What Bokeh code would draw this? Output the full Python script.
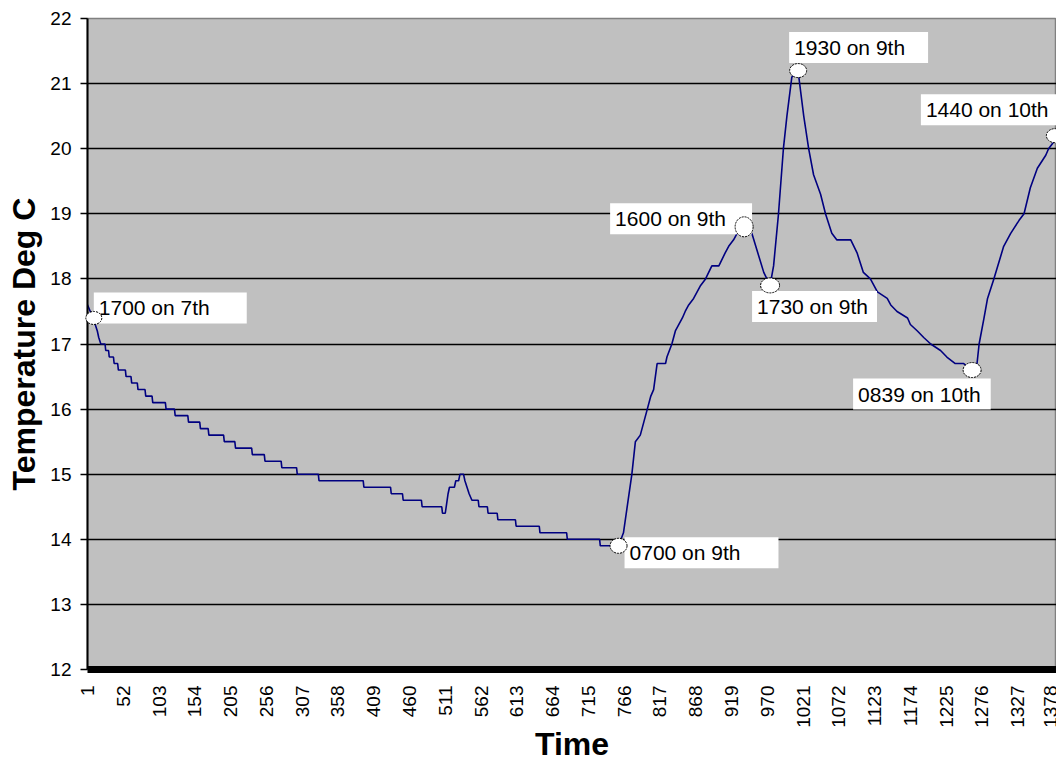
import math
from bokeh.plotting import figure
from bokeh.models import Range1d, FixedTicker, Label
from bokeh.embed import file_html
from bokeh.resources import INLINE

# ---- data: vertices of the logged temperature trace (sample number, deg C) ----
sample_idx = [
    1, 5, 9, 12, 15, 17, 20, 26, 27, 31, 32, 38, 39, 44, 45, 55, 56, 63, 64, 72,
    73, 83, 84, 93, 94, 112, 113, 125, 126, 144, 145, 161, 162, 173, 174, 195, 196, 211, 212, 235,
    236, 253, 254, 277, 278, 299, 300, 330, 331, 394, 395, 433, 434, 450, 451, 477, 478, 506, 507, 511,
    515, 517, 524, 526, 530, 532, 537, 539, 542, 545, 549, 558, 559, 571, 572, 585, 586, 611, 612, 645,
    646, 684, 685, 731, 732, 758,
    765, 777, 782, 789, 794, 799, 804, 808, 813, 825, 827, 834, 839, 844, 849, 853, 858, 865, 875, 882,
    891, 901, 910, 915, 922, 927, 937,
    948, 965, 974,
    979, 986, 993, 998, 1005, 1014, 1015, 1022, 1029, 1036, 1046, 1053, 1062, 1069, 1089, 1098, 1107, 1117, 1127, 1141,
    1146, 1155, 1170, 1174, 1184, 1193, 1203, 1217, 1226, 1238, 1250, 1262,
    1269, 1272, 1279, 1284, 1293, 1307, 1317, 1329, 1336, 1345, 1355, 1367, 1371, 1378, 1380, 1384,
]
temp_c = [
    17.6, 17.5, 17.4, 17.3, 17.2, 17.1, 17.0, 17.0, 16.9, 16.9, 16.8, 16.8, 16.7, 16.7, 16.6, 16.6, 16.5, 16.5, 16.4, 16.4,
    16.3, 16.3, 16.2, 16.2, 16.1, 16.1, 16.0, 16.0, 15.9, 15.9, 15.8, 15.8, 15.7, 15.7, 15.6, 15.6, 15.5, 15.5, 15.4, 15.4,
    15.3, 15.3, 15.2, 15.2, 15.1, 15.1, 15.0, 15.0, 14.9, 14.9, 14.8, 14.8, 14.7, 14.7, 14.6, 14.6, 14.5, 14.5, 14.4, 14.4,
    14.7, 14.8, 14.8, 14.9, 14.9, 15.0, 15.0, 14.9, 14.8, 14.7, 14.6, 14.6, 14.5, 14.5, 14.4, 14.4, 14.3, 14.3, 14.2, 14.2,
    14.1, 14.1, 14.0, 14.0, 13.9, 13.9,
    14.1, 15.0, 15.5, 15.6, 15.8, 16.0, 16.2, 16.3, 16.7, 16.7, 16.8, 17.0, 17.2, 17.3, 17.4, 17.5, 17.6, 17.7, 17.9, 18.0,
    18.2, 18.2, 18.4, 18.5, 18.6, 18.7, 18.8,
    18.7, 18.1, 17.9,
    18.2, 19.0, 20.0, 20.5, 21.1, 21.2, 21.1, 20.5, 20.0, 19.6, 19.3, 19.0, 18.7, 18.6, 18.6, 18.4, 18.1, 18.0, 17.8, 17.7,
    17.6, 17.5, 17.4, 17.3, 17.2, 17.1, 17.0, 16.9, 16.8, 16.7, 16.7, 16.6,
    16.7, 17.0, 17.4, 17.7, 18.0, 18.5, 18.7, 18.9, 19.0, 19.4, 19.7, 19.9, 20.0, 20.1, 20.2, 20.2,
]

x_ticks = [1, 52, 103, 154, 205, 256, 307, 358, 409, 460, 511, 562, 613, 664, 715, 766,
           817, 868, 919, 970, 1021, 1072, 1123, 1174, 1225, 1276, 1327, 1378]
y_ticks = [12, 13, 14, 15, 16, 17, 18, 19, 20, 21, 22]

note_text = ["1700 on 7th", "0700 on 9th", "1600 on 9th", "1730 on 9th",
             "1930 on 9th", "0839 on 10th", "1440 on 10th"]
note_idx = [10, 758, 937, 974, 1014, 1262, 1380]
note_temp = [17.4, 13.9, 18.8, 17.9, 21.2, 16.6, 20.2]

# label / marker styles (screen px)
note_dx = [0, 6, -134, -18, -9, -119, -134]
note_dy = [10, -7, 8, -21, 23, -24, 26]
note_pad_right = [37, 38, 26, 9, 23, 10, 20]
marker_w = [16, 17, 18, 19, 17, 18, 17]
marker_h = [13, 15, 20, 15, 14, 15, 14]

FONT = "Liberation Sans"

p = figure(width=1056, height=764, output_backend="svg", toolbar_location=None,
           x_range=Range1d(1, 1382.3), y_range=Range1d(12, 22),
           min_border_left=87, min_border_right=0, min_border_top=18, min_border_bottom=0)

p.background_fill_color = "#C0C0C0"
p.border_fill_color = "white"
p.outline_line_color = "#808080"
p.outline_line_width = 1.5

p.xgrid.visible = False
p.ygrid.grid_line_color = "black"
p.ygrid.grid_line_width = 1.5

p.xaxis.ticker = FixedTicker(ticks=x_ticks)
p.yaxis.ticker = FixedTicker(ticks=y_ticks)

xa = p.xaxis[0]
xa.axis_line_width = 7
xa.axis_line_color = "black"
xa.major_tick_out = 0
xa.major_tick_in = 0
xa.minor_tick_out = 0
xa.minor_tick_in = 0
xa.major_label_orientation = math.pi / 2
xa.major_label_text_font = FONT
xa.major_label_text_font_size = "19px"
xa.major_label_text_color = "black"
xa.major_label_standoff = 16
xa.axis_label = "Time"
xa.axis_label_text_font = FONT
xa.axis_label_text_font_size = "32px"
xa.axis_label_text_font_style = "bold"
xa.axis_label_text_color = "black"
xa.axis_label_standoff = -5

ya = p.yaxis[0]
ya.axis_line_width = 2
ya.axis_line_color = "black"
ya.major_tick_out = 7
ya.major_tick_in = 0
ya.major_tick_line_width = 1.5
ya.major_tick_line_color = "black"
ya.minor_tick_out = 0
ya.minor_tick_in = 0
ya.major_label_text_font = FONT
ya.major_label_text_font_size = "19px"
ya.major_label_text_color = "black"
ya.major_label_standoff = 9
ya.axis_label = "Temperature Deg C"
ya.axis_label_text_font = FONT
ya.axis_label_text_font_size = "32px"
ya.axis_label_text_font_style = "bold"
ya.axis_label_text_color = "black"
ya.axis_label_standoff = 5

p.line(sample_idx, temp_c, line_color="#000080", line_width=1.6)

for t, xi, yv, dx, dy, pr in zip(note_text, note_idx, note_temp, note_dx, note_dy, note_pad_right):
    p.add_layout(Label(x=xi, y=yv, x_offset=dx, y_offset=dy, text=t,
                       text_font=FONT, text_font_size="21px", text_color="black",
                       text_align="left", text_baseline="middle",
                       background_fill_color="white",
                       padding=dict(left=5, right=pr, top=4, bottom=4)))

p.ellipse(x=note_idx, y=note_temp, width=marker_w, height=marker_h,
          width_units="screen", height_units="screen",
          fill_color="white", line_color="black", line_width=1, line_dash="2 1",
          level="overlay")

open("out.html", "w").write(file_html(p, INLINE))
